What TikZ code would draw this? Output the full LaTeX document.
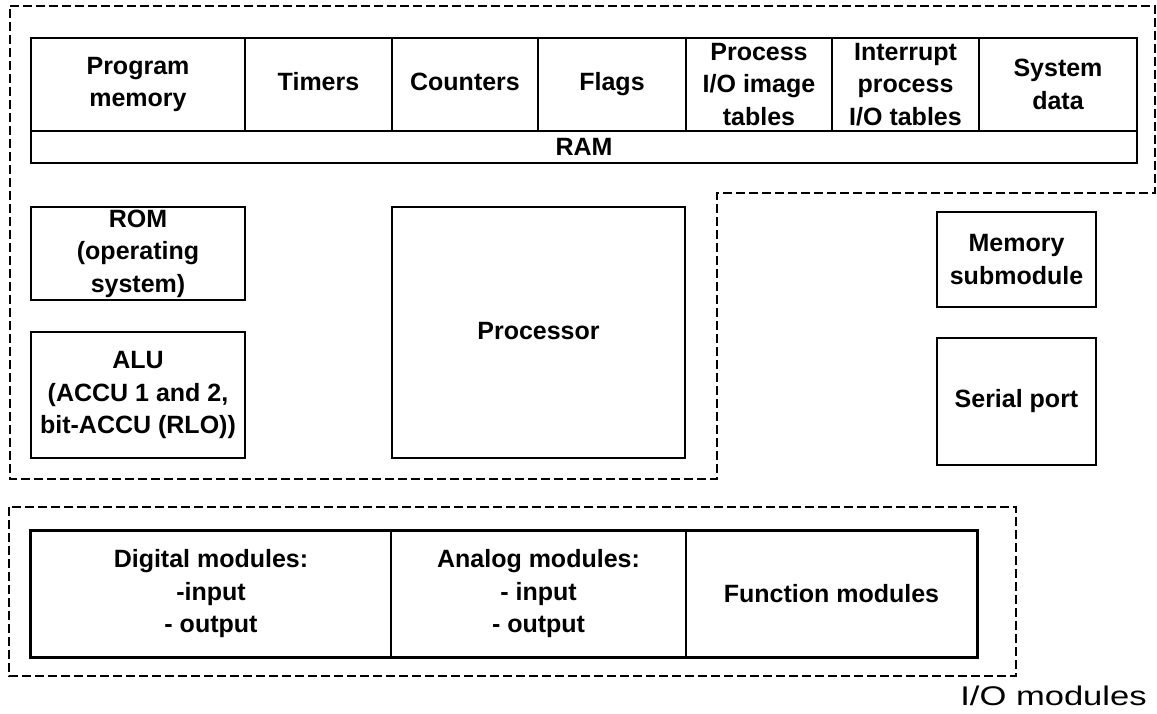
\documentclass[tikz,border=0pt]{standalone}
\usepackage{fontspec}
\setmainfont{Liberation Sans}
\begin{document}
\begin{tikzpicture}[x={(1pt,0)},y={(0,-1pt)},
  box/.style={draw,line width=2.8pt,inner sep=0pt,align=center,
    font=\fontsize{25}{32.5}\selectfont\bfseries},
  thinbox/.style={box,line width=1.8pt},
  region/.style={draw,line width=2.3pt,dash pattern=on 9pt off 4pt}]
\useasboundingbox (0,0) rectangle (1157,714);
% CPU region
\draw[region] (10,6) -- (1155,6) -- (1155,193) -- (717,193) -- (717,479) -- (10,479) -- cycle;
% RAM cells
\node[box,minimum width=214pt,minimum height=93pt] (prog) at (138,84.5) {Program\\memory};
\node[box,minimum width=147pt,minimum height=93pt] (tim) at (318.5,84.5) {Timers\strut};
\node[box,minimum width=146pt,minimum height=93pt] (cnt) at (465,84.5) {Counters\strut};
\node[box,minimum width=148pt,minimum height=93pt] (flg) at (612,84.5) {Flags\strut};
\node[box,minimum width=146pt,minimum height=93pt] (pio) at (759,84.5) {Process\\I/O image\\tables};
\node[box,minimum width=147pt,minimum height=93pt] (ipio) at (905.5,84.5) {Interrupt\\process\\I/O tables};
\node[box,minimum width=158pt,minimum height=93pt] (sys) at (1058,84.5) {System\\data};
\node[box,minimum width=1106pt,minimum height=32pt] (ram) at (584,147) {RAM};
% left column
\node[box,minimum width=214pt,minimum height=93pt] (rom) at (138,253.5) {ROM\\(operating\\system)};
\node[box,minimum width=214pt,minimum height=126pt] (alu) at (138,395) {ALU\\(ACCU 1 and 2,\\bit-ACCU (RLO))};
\node[box,minimum width=293pt,minimum height=251pt] (proc) at (538.5,332.5) {Processor\strut};
% right column
\node[box,minimum width=159pt,minimum height=95pt] (mem) at (1016.5,259.5) {Memory\\submodule};
\node[box,minimum width=159pt,minimum height=127pt] (ser) at (1016.5,401.5) {Serial port};
% I/O region
\draw[region] (9,507) rectangle (1016,676);
\node[thinbox,minimum width=360pt,minimum height=126pt] (dig) at (211,594) {Digital modules:\\-input\\- output};
\node[thinbox,minimum width=295pt,minimum height=126pt] (ana) at (538.5,594) {Analog modules:\\- input\\- output};
\node[thinbox,minimum width=291pt,minimum height=126pt] (fun) at (831.5,594) {Function modules};
\draw[line width=2.8pt] (dig.north west) -- (fun.north east) -- (fun.south east) -- (dig.south west) -- cycle;
\node[inner sep=0pt,font=\fontsize{27}{30}\selectfont,xscale=1.28,transform shape] (iolabel) at (1053.5,696) {I/O modules};
\end{tikzpicture}
\end{document}
